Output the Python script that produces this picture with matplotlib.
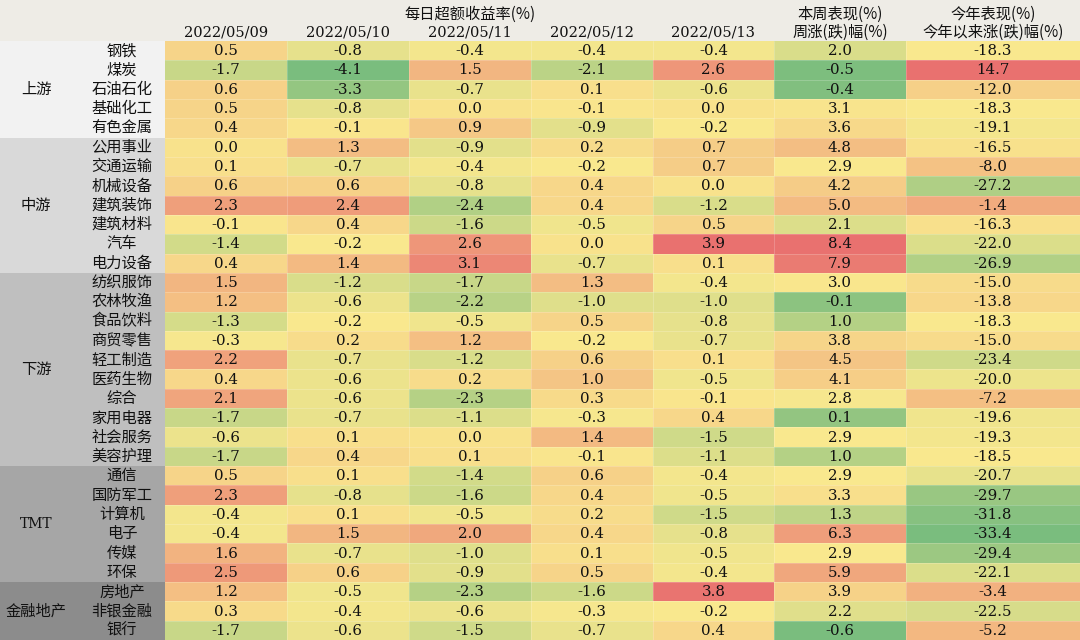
import numpy as np
import matplotlib
matplotlib.use("Agg")
import matplotlib.pyplot as plt
from matplotlib.colors import LinearSegmentedColormap, TwoSlopeNorm

plt.rcParams['font.family'] = ['Noto Sans CJK SC', 'DejaVu Sans']

groups = ["上游", "中游", "下游", "TMT", "金融地产"]
group_sizes = [5, 7, 10, 6, 3]
group_colors = ["#f2f2f2", "#d9d9d9", "#bfbfbf", "#a6a6a6", "#8c8c8c"]

industries = ["钢铁", "煤炭", "石油石化", "基础化工", "有色金属",
              "公用事业", "交通运输", "机械设备", "建筑装饰", "建筑材料", "汽车", "电力设备",
              "纺织服饰", "农林牧渔", "食品饮料", "商贸零售", "轻工制造", "医药生物", "综合",
              "家用电器", "社会服务", "美容护理",
              "通信", "国防军工", "计算机", "电子", "传媒", "环保",
              "房地产", "非银金融", "银行"]

dates = ["2022/05/09", "2022/05/10", "2022/05/11", "2022/05/12", "2022/05/13"]

d0509 = [0.5, -1.7, 0.6, 0.5, 0.4, 0.0, 0.1, 0.6, 2.3, -0.1, -1.4, 0.4, 1.5, 1.2, -1.3, -0.3,
         2.2, 0.4, 2.1, -1.7, -0.6, -1.7, 0.5, 2.3, -0.4, -0.4, 1.6, 2.5, 1.2, 0.3, -1.7]
d0510 = [-0.8, -4.1, -3.3, -0.8, -0.1, 1.3, -0.7, 0.6, 2.4, 0.4, -0.2, 1.4, -1.2, -0.6, -0.2, 0.2,
         -0.7, -0.6, -0.6, -0.7, 0.1, 0.4, 0.1, -0.8, 0.1, 1.5, -0.7, 0.6, -0.5, -0.4, -0.6]
d0511 = [-0.4, 1.5, -0.7, 0.0, 0.9, -0.9, -0.4, -0.8, -2.4, -1.6, 2.6, 3.1, -1.7, -2.2, -0.5, 1.2,
         -1.2, 0.2, -2.3, -1.1, 0.0, 0.1, -1.4, -1.6, -0.5, 2.0, -1.0, -0.9, -2.3, -0.6, -1.5]
d0512 = [-0.4, -2.1, 0.1, -0.1, -0.9, 0.2, -0.2, 0.4, 0.4, -0.5, 0.0, -0.7, 1.3, -1.0, 0.5, -0.2,
         0.6, 1.0, 0.3, -0.3, 1.4, -0.1, 0.6, 0.4, 0.2, 0.4, 0.1, 0.5, -1.6, -0.3, -0.7]
d0513 = [-0.4, 2.6, -0.6, 0.0, -0.2, 0.7, 0.7, 0.0, -1.2, 0.5, 3.9, 0.1, -0.4, -1.0, -0.8, -0.7,
         0.1, -0.5, -0.1, 0.4, -1.5, -1.1, -0.4, -0.5, -1.5, -0.8, -0.5, -0.4, 3.8, -0.2, 0.4]
week = [2.0, -0.5, -0.4, 3.1, 3.6, 4.8, 2.9, 4.2, 5.0, 2.1, 8.4, 7.9, 3.0, -0.1, 1.0, 3.8,
        4.5, 4.1, 2.8, 0.1, 2.9, 1.0, 2.9, 3.3, 1.3, 6.3, 2.9, 5.9, 3.9, 2.2, -0.6]
ytd = [-18.3, 14.7, -12.0, -18.3, -19.1, -16.5, -8.0, -27.2, -1.4, -16.3, -22.0, -26.9, -15.0,
       -13.8, -18.3, -15.0, -23.4, -20.0, -7.2, -19.6, -19.3, -18.5, -20.7, -29.7, -31.8, -33.4,
       -29.4, -22.1, -3.4, -22.5, -5.2]

daily = np.array([d0509, d0510, d0511, d0512, d0513]).T
week = np.array(week)
ytd = np.array(ytd)

# layout (pixels)
W, H = 1080, 640
col_edges = [165, 287, 409, 531, 653, 774, 906, 1080]
header_h = 41
n = len(industries)
row_h = (H - header_h) / n
row_edges = header_h + np.arange(n + 1) * row_h

cmap = LinearSegmentedColormap.from_list("gyr", ["#7abd7e", "#f9e88e", "#e9716f"])

def norm_for(v):
    v = np.asarray(v)
    return TwoSlopeNorm(vmin=v.min(), vcenter=np.median(v), vmax=v.max())

fig = plt.figure(figsize=(W / 100, H / 100), dpi=100)
ax = fig.add_axes([0, 0, 1, 1])
ax.set_xlim(0, W)
ax.set_ylim(H, 0)
ax.axis("off")

TXT = "#111111"
CN = 11

# header background
ax.add_patch(plt.Rectangle((0, 0), W, header_h, color="#eeece6", lw=0))

# group backgrounds + labels
start = 0
for g, size, c in zip(groups, group_sizes, group_colors):
    y0, y1 = row_edges[start], row_edges[start + size]
    ax.add_patch(plt.Rectangle((0, y0), col_edges[0], y1 - y0, color=c, lw=0))
    fam = ["DejaVu Serif"] if g == "TMT" else None
    kw = dict(family=fam) if fam else {}
    ax.text(36, (y0 + y1) / 2, g, ha="center", va="center", fontsize=CN if not fam else 10,
            color=TXT, **kw)
    start += size

for i, name in enumerate(industries):
    ax.text(122, (row_edges[i] + row_edges[i + 1]) / 2, name, ha="center", va="center",
            fontsize=CN, color=TXT)

# heat cells
dn = norm_for(daily)
ax.pcolormesh(col_edges[:6], row_edges, daily, cmap=cmap, norm=dn, edgecolors="none")
ax.pcolormesh(col_edges[5:7], row_edges, week[:, None], cmap=cmap, norm=norm_for(week), edgecolors="none")
ax.pcolormesh(col_edges[6:8], row_edges, ytd[:, None], cmap=cmap, norm=norm_for(ytd), edgecolors="none")

# thin separators
for y in row_edges[1:-1]:
    ax.plot([col_edges[0], W], [y, y], color="white", lw=0.4, alpha=0.35)
for x in col_edges[1:-1]:
    ax.plot([x, x], [header_h, H], color="white", lw=0.4, alpha=0.35)

numfont = dict(family="DejaVu Serif", fontsize=10.8, color=TXT)
values = np.column_stack([daily, week, ytd])
for i in range(n):
    yc = (row_edges[i] + row_edges[i + 1]) / 2
    for j in range(values.shape[1]):
        xc = (col_edges[j] + col_edges[j + 1]) / 2
        ax.text(xc, yc + 0.5, f"{values[i, j]:.1f}", ha="center", va="center", **numfont)

# headers
ax.text((col_edges[0] + col_edges[5]) / 2, 14, "每日超额收益率(%)", ha="center", va="center",
        fontsize=CN, color=TXT)
for j, d in enumerate(dates):
    ax.text((col_edges[j] + col_edges[j + 1]) / 2, 32, d, ha="center", va="center",
            fontsize=10.5, color=TXT, family="DejaVu Serif")
ax.text((col_edges[5] + col_edges[6]) / 2, 14, "本周表现(%)", ha="center", va="center",
        fontsize=CN, color=TXT)
ax.text((col_edges[5] + col_edges[6]) / 2, 32, "周涨(跌)幅(%)", ha="center", va="center",
        fontsize=CN, color=TXT)
ax.text((col_edges[6] + col_edges[7]) / 2, 14, "今年表现(%)", ha="center", va="center",
        fontsize=CN, color=TXT)
ax.text((col_edges[6] + col_edges[7]) / 2, 32, "今年以来涨(跌)幅(%)", ha="center", va="center",
        fontsize=CN, color=TXT)

fig.savefig("out.png", dpi=100)
